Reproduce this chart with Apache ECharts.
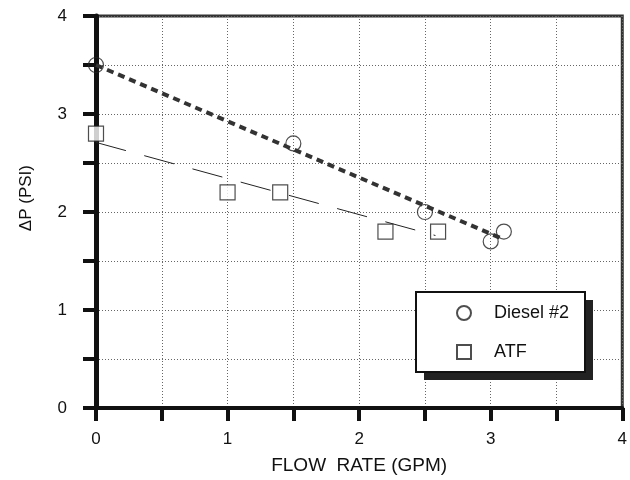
<!DOCTYPE html>
<html>
<head>
<meta charset="utf-8">
<script src="https://cdn.jsdelivr.net/npm/echarts@6/dist/echarts.min.js"></script>
<style>
  html, body { margin: 0; padding: 0; background: #fff; }
  #chart { width: 630px; height: 480px; }
</style>
</head>
<body>
<div id="chart"></div>
<script>
// measured points
var dieselFlow = [0, 1.5, 2.5, 3.0, 3.1];
var dieselDp = [3.5, 2.7, 2.0, 1.7, 1.8];
var atfFlow = [0, 1.0, 1.4, 2.2, 2.6];
var atfDp = [2.8, 2.2, 2.2, 1.8, 1.8];

// fitted lines (end points)
var dieselFitFlow = [0, 3.1];
var dieselFitDp = [3.5, 1.72];
var atfFitFlow = [0, 2.58];
var atfFitDp = [2.71, 1.76];

var axisTicks = [0, 1, 2, 3, 4];

function pairs(xs, ys) {
  return xs.map(function (x, i) { return [x, ys[i]]; });
}

var font = 'Liberation Sans, Arial, Helvetica, sans-serif';
var chart = echarts.init(document.getElementById('chart'));

chart.setOption({
  animation: false,
  textStyle: { fontFamily: font },
  grid: {
    left: 96,
    right: 3,
    top: 16,
    bottom: 70,
    show: true,
    borderColor: '#333',
    borderWidth: 3
  },
  legend: {
    data: ['Diesel #2', 'ATF'],
    orient: 'vertical',
    left: 416,
    top: 292,
    z: 10,
    padding: [12, 18, 11, 40],
    itemWidth: 14,
    itemHeight: 14,
    itemGap: 21,
    textStyle: {
      fontFamily: font,
      fontSize: 18,
      lineHeight: 18,
      color: '#111',
      padding: [0, 0, 0, 18]
    }
  },
  xAxis: {
    type: 'value',
    min: 0,
    max: 4,
    interval: 0.5,
    name: 'FLOW  RATE (GPM)',
    nameLocation: 'middle',
    nameGap: 48,
    nameTextStyle: { fontSize: 19, color: '#111', fontFamily: font },
    axisLine: { lineStyle: { color: '#111', width: 4 } },
    axisTick: { inside: false, length: 13, lineStyle: { color: '#111', width: 4 } },
    axisLabel: {
      margin: 23,
      fontSize: 17,
      color: '#111',
      formatter: function (v) { return axisTicks.indexOf(v) >= 0 ? String(v) : ''; }
    },
    splitLine: { show: true, lineStyle: { color: '#666', width: 1, type: [1, 2] } }
  },
  yAxis: {
    type: 'value',
    min: 0,
    max: 4,
    interval: 0.5,
    axisLine: { lineStyle: { color: '#111', width: 5 } },
    axisTick: { inside: false, length: 13, lineStyle: { color: '#111', width: 4 } },
    axisLabel: {
      margin: 29,
      fontSize: 17,
      color: '#111',
      formatter: function (v) { return axisTicks.indexOf(v) >= 0 ? String(v) : ''; }
    },
    splitLine: { show: true, lineStyle: { color: '#666', width: 1, type: [1, 2] } }
  },
  graphic: [
    {
      type: 'text',
      left: 18,
      top: 165,
      rotation: Math.PI / 2,
      style: { text: 'ΔP (PSI)', font: '17px ' + font, fill: '#111' }
    },
    // legend box with its drop shadow
    {
      type: 'rect',
      z: 5,
      shape: { x: 424, y: 300, width: 169, height: 80 },
      style: { fill: '#222' }
    },
    {
      type: 'rect',
      z: 6,
      shape: { x: 416, y: 292, width: 169, height: 80 },
      style: { fill: '#fff', stroke: '#111', lineWidth: 2 }
    }
  ],
  series: [
    {
      name: 'Diesel fit',
      type: 'line',
      data: pairs(dieselFitFlow, dieselFitDp),
      symbol: 'none',
      z: 3,
      lineStyle: { color: '#333', width: 4, type: [7, 5] }
    },
    {
      name: 'ATF fit',
      type: 'line',
      data: pairs(atfFitFlow, atfFitDp),
      symbol: 'none',
      z: 3,
      lineStyle: { color: '#222', width: 1, type: [31, 19] }
    },
    {
      name: 'Diesel #2',
      type: 'scatter',
      data: pairs(dieselFlow, dieselDp),
      symbol: 'circle',
      symbolSize: 15,
      z: 2,
      itemStyle: { color: 'rgba(255,255,255,0)', borderColor: '#222', borderWidth: 1.2 }
    },
    {
      name: 'ATF',
      type: 'scatter',
      data: pairs(atfFlow, atfDp),
      symbol: 'rect',
      symbolSize: 15,
      z: 2,
      itemStyle: { color: '#fff', borderColor: '#222', borderWidth: 1.2 }
    }
  ]
});
</script>
</body>
</html>
